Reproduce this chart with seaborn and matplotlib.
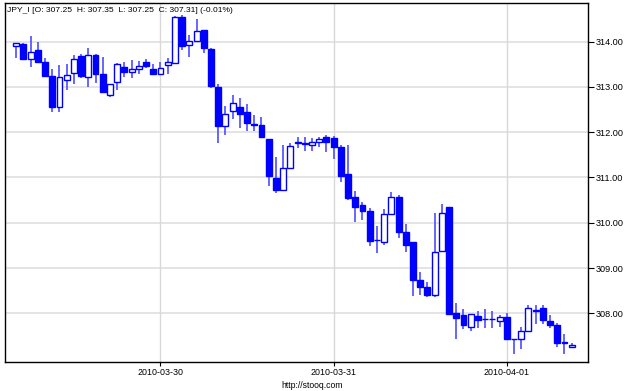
import matplotlib
matplotlib.use("Agg")
import matplotlib.pyplot as plt
import seaborn as sns
import numpy as np
import pandas as pd

# hourly bars, 2010-03-29 04:00 .. 2010-04-01 09:00
start_time = "2010-03-29 04:00"
n_bars = 78

open_ = [313.90, 313.95, 313.61, 313.82, 313.54, 313.245, 312.55, 313.15, 313.305, 313.68,
         313.22, 313.70, 313.275, 312.82, 313.10, 313.44, 313.32, 313.39, 313.55, 313.39,
         313.275, 313.48, 313.515, 314.54, 313.92, 314.02, 314.25, 313.845, 312.99, 312.14,
         312.455, 312.56, 312.45, 312.18, 312.16, 311.84, 310.99, 310.72, 311.20, 311.78,
         311.77, 311.72, 311.79, 311.90, 311.865, 311.665, 311.07, 310.57, 310.39, 310.26,
         309.625, 309.57, 310.19, 310.56, 309.79, 309.57, 308.735, 308.575, 308.40, 309.38,
         310.34, 308.01, 307.96, 307.70, 307.94, 307.875, 307.87, 307.84, 307.92, 307.43,
         307.43, 307.62, 308.06, 308.11, 307.84, 307.74, 307.35, 307.25]
high = [313.97, 313.96, 314.12, 314.00, 313.63, 313.39, 313.48, 313.50, 313.70, 313.72,
        313.85, 313.72, 313.65, 313.07, 313.52, 313.55, 313.59, 313.56, 313.61, 313.50,
        313.55, 313.64, 314.57, 314.585, 314.14, 314.49, 314.26, 313.86, 313.06, 312.58,
        312.83, 312.75, 312.62, 312.38, 312.33, 311.84, 311.45, 311.715, 311.75, 311.885,
        311.885, 311.86, 311.90, 311.94, 311.91, 311.715, 311.715, 310.70, 310.46, 310.32,
        309.93, 310.30, 310.67, 310.61, 309.965, 309.57, 308.91, 308.68, 310.22, 310.41,
        310.34, 308.23, 308.105, 307.98, 308.06, 308.09, 308.05, 307.96, 308.00, 307.44,
        307.70, 308.18, 308.18, 308.18, 307.96, 307.78, 307.54, 307.35]
low = [313.63, 313.60, 313.43, 313.52, 313.22, 312.45, 312.45, 312.93, 313.07, 313.20,
       313.00, 313.08, 312.87, 312.78, 312.93, 313.22, 313.20, 313.28, 313.41, 313.25,
       313.26, 313.28, 313.50, 313.81, 313.65, 314.01, 313.75, 312.98, 311.77, 311.93,
       312.28, 312.10, 312.03, 312.03, 311.885, 310.81, 310.65, 310.70, 311.20, 311.655,
       311.58, 311.59, 311.68, 311.57, 311.40, 310.905, 310.50, 310.02, 310.06, 309.49,
       309.34, 309.51, 310.18, 309.655, 309.36, 308.38, 308.40, 308.36, 308.355, 309.36,
       307.98, 307.425, 307.65, 307.61, 307.67, 307.67, 307.67, 307.69, 307.43, 307.10,
       307.205, 307.59, 307.76, 307.76, 307.67, 307.26, 307.10, 307.25]
close = [313.97, 313.61, 313.775, 313.55, 313.245, 312.56, 313.22, 313.25, 313.61, 313.245,
         313.70, 313.28, 312.88, 313.055, 313.50, 313.33, 313.39, 313.46, 313.46, 313.28,
         313.41, 313.54, 314.54, 313.91, 314.01, 314.24, 313.86, 313.01, 312.14, 312.39,
         312.65, 312.39, 312.195, 312.15, 311.90, 311.03, 310.715, 311.20, 311.70, 311.75,
         311.74, 311.79, 311.84, 311.775, 311.665, 311.03, 310.54, 310.35, 310.265, 309.60,
         309.61, 310.20, 310.57, 309.80, 309.51, 308.735, 308.59, 308.40, 309.35, 310.225,
         307.985, 307.90, 307.735, 307.98, 307.86, 307.87, 307.87, 307.92, 307.43, 307.43,
         307.62, 308.11, 308.08, 307.85, 307.74, 307.335, 307.35, 307.31]

ytick_vals = [308, 309, 310, 311, 312, 313, 314]
xtick_dates = ["2010-03-30", "2010-03-31", "2010-04-01"]
title_text = "JPY_I [O: 307.25  H: 307.35  L: 307.25  C: 307.31] (-0.01%)"
footer_text = "http://stooq.com"

times = pd.date_range(start_time, periods=n_bars, freq="h")
df = pd.DataFrame({"time": times, "open": open_, "high": high,
                   "low": low, "close": close})
t0 = pd.Timestamp("2010-03-29 00:00")
df["x"] = (df["time"] - t0) / pd.Timedelta(hours=1)
df["up"] = df["close"] >= df["open"]

sns.set_theme(style="white")
plt.rcParams["font.family"] = ["Liberation Sans", "DejaVu Sans"]

fig = plt.figure(figsize=(6.25, 3.91), dpi=100)
ax = fig.add_axes([5 / 625, 29 / 391, 583 / 625, 359 / 391])

blue = "#0000ff"
wick_c = "#5a5aff"
w = 0.82

# wicks
ax.vlines(df["x"], df["low"], df["high"], color=wick_c, lw=1.3, zorder=2)
# bodies
body_bottom = np.minimum(df["open"], df["close"])
body_h = np.maximum(np.abs(df["close"] - df["open"]), 0.012)
face = np.where(df["up"], "white", blue)
ax.bar(df["x"], body_h, bottom=body_bottom, width=w, color=face,
       edgecolor=blue, linewidth=1.0, zorder=3)

ax.set_ylim(306.925, 314.85)
ax.set_xlim(2.45, 83.26)

ax.yaxis.tick_right()
ax.set_yticks(ytick_vals)
ax.set_yticklabels([f"{v:.2f}" for v in ytick_vals])
xt = [(pd.Timestamp(d) - t0) / pd.Timedelta(hours=1) for d in xtick_dates]
ax.set_xticks(xt)
ax.set_xticklabels(xtick_dates)
ax.tick_params(axis="y", which="both", right=True, left=False, length=4,
               width=0.8, color="black", labelsize=6.6, pad=1.5, labelcolor="black")
ax.tick_params(axis="x", bottom=True, length=3, width=0.8, color="black",
               labelsize=6.4, pad=1, labelcolor="black")

ax.grid(False)
for v in ytick_vals:
    ax.axhline(v, color="#e4e4e4", lw=1.4, zorder=0)
for v in xt:
    ax.axvline(v, color="#d8d8d8", lw=1.0, zorder=0)

for s in ax.spines.values():
    s.set_color("black")
    s.set_linewidth(1.0)

ax.text(0.004, 0.988, title_text, transform=ax.transAxes, ha="left", va="top",
        fontsize=6.1, color="black", zorder=5)
fig.text(0.5, 0.002, footer_text, ha="center", va="bottom", fontsize=6.2,
         color="black")

fig.savefig("out.png", dpi=100, facecolor="white")
